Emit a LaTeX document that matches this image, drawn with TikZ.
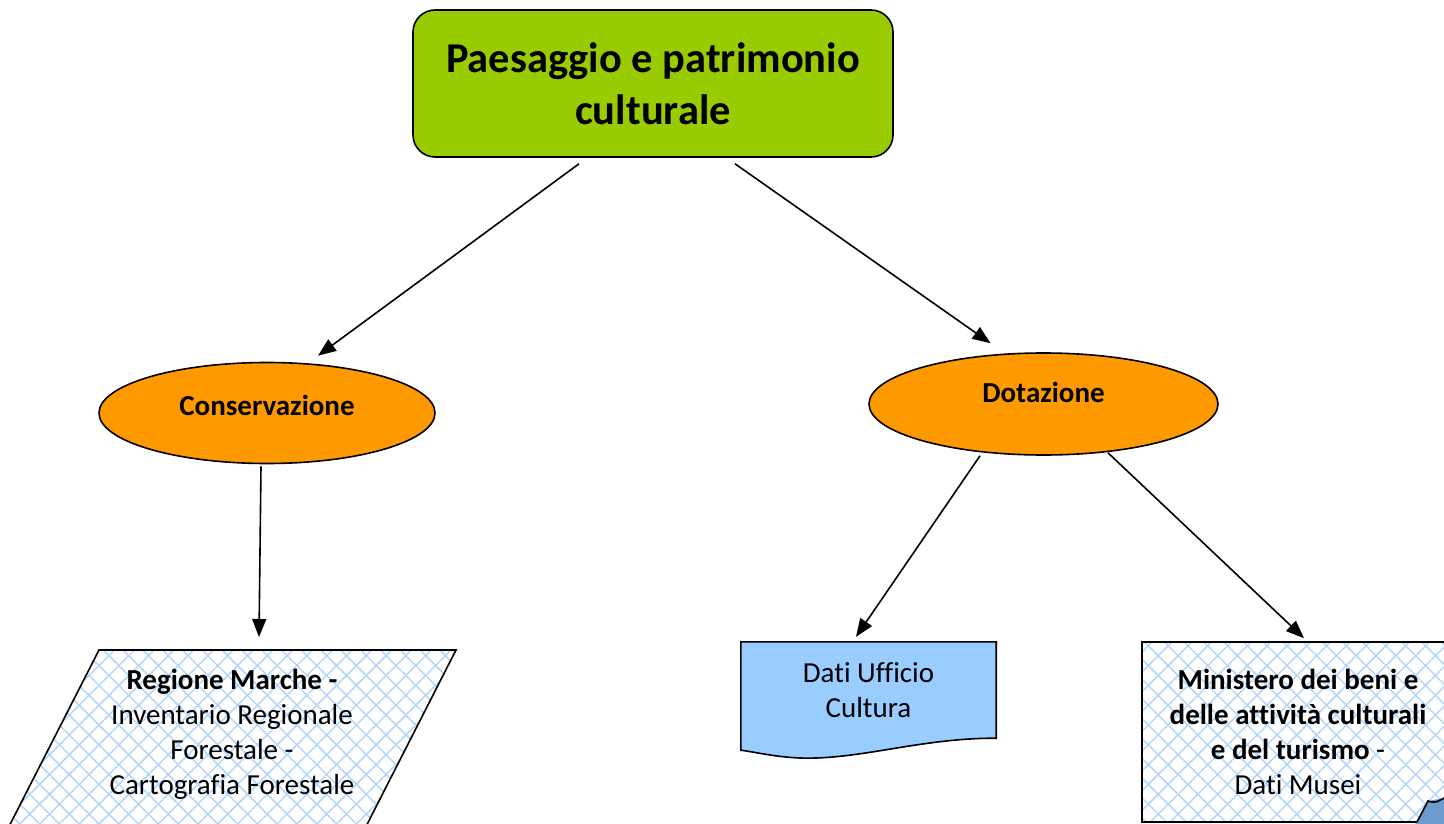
\documentclass[tikz,border=0pt]{standalone}
\usepackage{fontspec}
\setmainfont{Carlito}[Ligatures=NoCommon]
\usetikzlibrary{arrows.meta,shapes.geometric,patterns.meta,calc,backgrounds}
\definecolor{titlegreen}{HTML}{99CC00}
\definecolor{ovalorange}{HTML}{FF9900}
\definecolor{docblue}{HTML}{99CCFF}
\definecolor{hatchblue}{HTML}{B4D6FA}
\definecolor{foldblue}{HTML}{6C9BCF}
\tikzset{
	link/.style={line width=1.6pt,-{Triangle[length=18pt,width=14pt]}},
	oval/.style={ellipse,draw,line width=1.6pt,fill=ovalorange,inner sep=0pt,font=\fontsize{29}{35}\selectfont\bfseries},
	txt/.style={align=center,font=\fontsize{29}{35}\selectfont},
	hatch/.style={pattern={Hatch[angle=45,distance=14pt,line width=1.5pt]},pattern color=hatchblue},
}
\begin{document}
\begin{tikzpicture}[x=1pt,y=-1pt]
	\useasboundingbox(0,0)rectangle(1444,824);
	\clip(0,0)rectangle(1444,824);
	\node[draw,line width=1.6pt,rounded corners=22pt,fill=titlegreen,minimum width=480pt,minimum height=147pt,align=center,font=\fontsize{42.5}{52}\selectfont\bfseries](title)at(653,83.5){Paesaggio e patrimonio\\culturale};
	\node[oval,minimum width=336pt,minimum height=101pt,text depth=16pt](cons)at(267,413){Conservazione};
	\node[oval,minimum width=349pt,minimum height=102pt,text depth=24pt](dot)at(1043.5,404){Dotazione};
	% fonti
	\coordinate(regtop)at(259,650);
	\node[txt](regione)at(232,734){\textbf{Regione Marche -}\\Inventario Regionale\\Forestale -\\Cartografia Forestale};
	\node[txt,minimum width=255pt,minimum height=96pt](dati)at(868.5,690){Dati Ufficio\\Cultura};
	\node[txt,hatch,draw,line width=1.6pt,minimum width=312pt,minimum height=180pt](min)at(1298,732){\textbf{Ministero dei beni e}\\\textbf{delle attività culturali}\\\textbf{e del turismo} -\\Dati Musei};
	\fill[foldblue](1417,822)--(1428,801)--(1460,795)--(1460,830)--(1410,830)--cycle;
	\draw[line width=1.6pt](1417,822)--(1428,801)..controls(1435,803)..(1446,797);
	\begin{scope}[on background layer]
		\clip(0,0)rectangle(1444,824);
		\draw[hatch,line width=1.6pt]($(regtop)+(-160,0)$)--($(regtop)+(197,0)$)--++(-102,200)--++(-357,0)--cycle;
		\draw[line width=1.6pt,fill=docblue](dati.north west)--(dati.north east)--(dati.south east)..controls(920,738)and(860,760)..(800,758)..controls(775,757)and(755,752)..($(dati.south west)+(0,12)$)--cycle;
	\end{scope}
	\draw[link]($(title.south)+(-74,6)$)--($(cons.north)+(51,-6)$);
	\draw[link]($(title.south)+(82,6)$)--($(dot.north)+(-53,-9)$);
	\draw[link]($(cons.south)+(-6,2)$)--($(regtop)+(0,-13)$);
	\draw[link]($(dot.south)+(-63.5,0)$)--($(dati.north)+(-12.5,-5)$);
	\draw[link]($(dot.south)+(64.5,-3)$)--($(min.north)+(6,-3)$);
\end{tikzpicture}
\end{document}
